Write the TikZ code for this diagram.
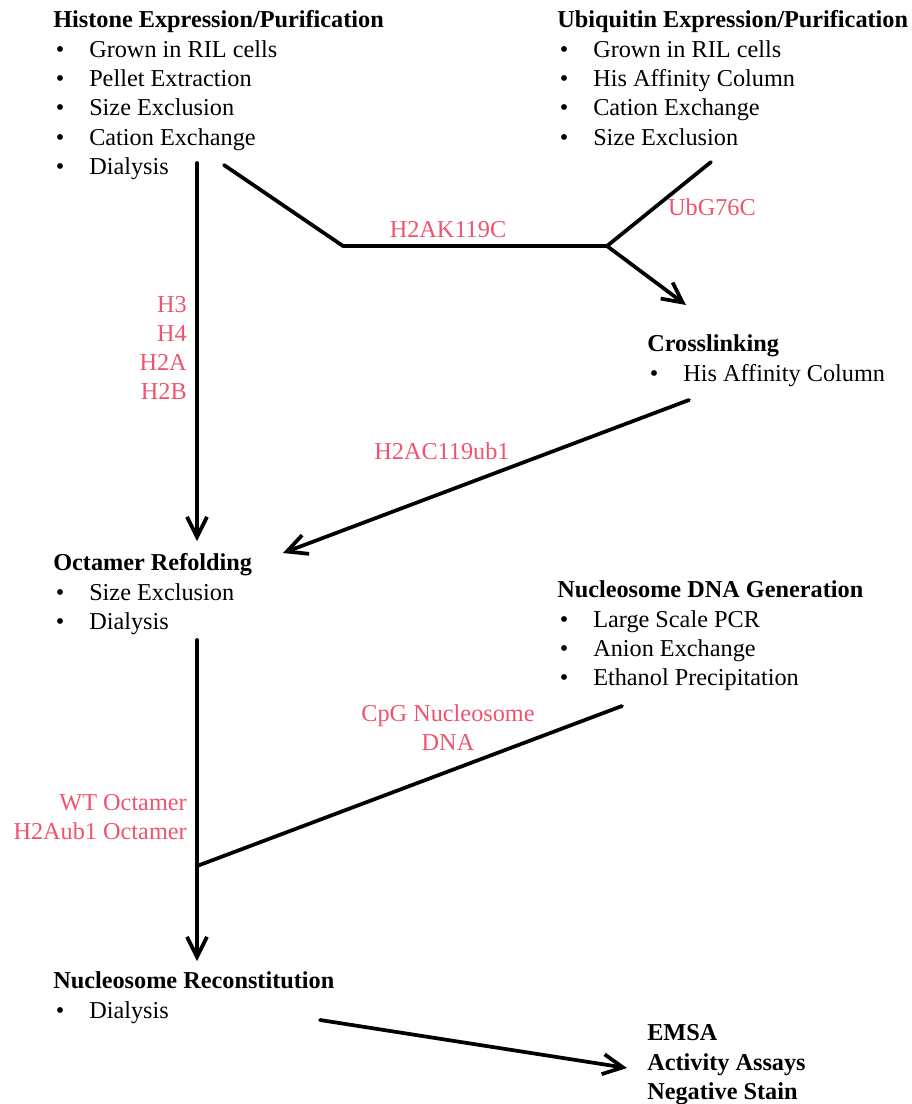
\documentclass[tikz,border=0pt]{standalone}
\usepackage{fontspec}
\setmainfont{Liberation Serif}
\usetikzlibrary{arrows.meta}
\definecolor{labred}{RGB}{238,84,110}
\newcommand{\bul}[1]{\makebox[27pt][l]{\hspace{2pt}\textbullet}#1}
\begin{document}
\begin{tikzpicture}[x=0.75pt, y=-0.75pt,
  blk/.style={anchor=north west, align=left, inner sep=0pt, font=\fontsize{18.2}{22}\selectfont},
  lab/.style={anchor=base, inner sep=0pt, text=labred, font=\fontsize{18.2}{22}\selectfont},
  labr/.style={lab, anchor=base east},
  ln/.style={draw=black, line width=2.8pt, line cap=round, line join=round},
  ar/.style={ln, -{Straight Barb[length=15pt, width=15pt, line width=2.8pt]}}]
\useasboundingbox (0,0) rectangle (912,1104);
% process blocks
\node[blk] (histone) at (53,7) {\strut\textbf{Histone Expression/Purification}\\
  \bul{Grown in RIL cells}\\ \bul{Pellet Extraction}\\ \bul{Size Exclusion}\\
  \bul{Cation Exchange}\\ \bul{Dialysis}};
\node[blk] (ubiq) at (557,7) {\strut\textbf{Ubiquitin Expression/Purification}\\
  \bul{Grown in RIL cells}\\ \bul{His Affinity Column}\\ \bul{Cation Exchange}\\
  \bul{Size Exclusion}};
\node[blk] (xlink) at (647,331) {\strut\textbf{Crosslinking}\\ \bul{His Affinity Column}};
\node[blk] (refold) at (53,550) {\strut\textbf{Octamer Refolding}\\ \bul{Size Exclusion}\\ \bul{Dialysis}};
\node[blk] (dnagen) at (557,577) {\strut\textbf{Nucleosome DNA Generation}\\
  \bul{Large Scale PCR}\\ \bul{Anion Exchange}\\ \bul{Ethanol Precipitation}};
\node[blk] (recon) at (53,968) {\strut\textbf{Nucleosome Reconstitution}\\ \bul{Dialysis}};
\node[blk] (assays) at (647,1020) {\strut\textbf{EMSA}\\ \textbf{Activity Assays}\\ \textbf{Negative Stain}};
% connector ends
\coordinate (hA) at (197,163); \coordinate (hB) at (197,541);
\coordinate (hC) at (224,165); \coordinate (hK) at (343,246);
\coordinate (jU) at (607,246); \coordinate (uA) at (711,162);
\coordinate (xA) at (686,305); \coordinate (xB) at (689,400);
\coordinate (oA) at (283,553); \coordinate (rA) at (197,640);
\coordinate (rB) at (197,961); \coordinate (jD) at (197,866);
\coordinate (dA) at (622,706); \coordinate (nA) at (320,1020);
\coordinate (eA) at (627,1068);
\draw[ar] (hA)--(hB);
\draw[ln] (hC)--(hK)--(jU);
\draw[ln] (uA)--(jU);
\draw[ar] (jU)--(xA);
\draw[ar] (xB)--(oA);
\draw[ar] (rA)--(rB);
\draw[ln] (dA)--(jD);
\draw[ar] (nA)--(eA);
% labels
\node[lab] (lk) at (448,237) {H2AK119C};
\node[lab] (lu) at (712,215) {UbG76C};
\node[labr] (l3) at (187,312) {H3};
\node[labr] (l4) at (187,341) {H4};
\node[labr] (l2a) at (187,370) {H2A};
\node[labr] (l2b) at (187,399) {H2B};
\node[lab] (lx) at (442,459) {H2AC119ub1};
\node[lab] (lc1) at (448,721) {CpG Nucleosome};
\node[lab] (lc2) at (448,750) {DNA};
\node[labr] (lw) at (187,810) {WT Octamer};
\node[labr] (lh) at (187,839) {H2Aub1 Octamer};
\end{tikzpicture}
\end{document}
